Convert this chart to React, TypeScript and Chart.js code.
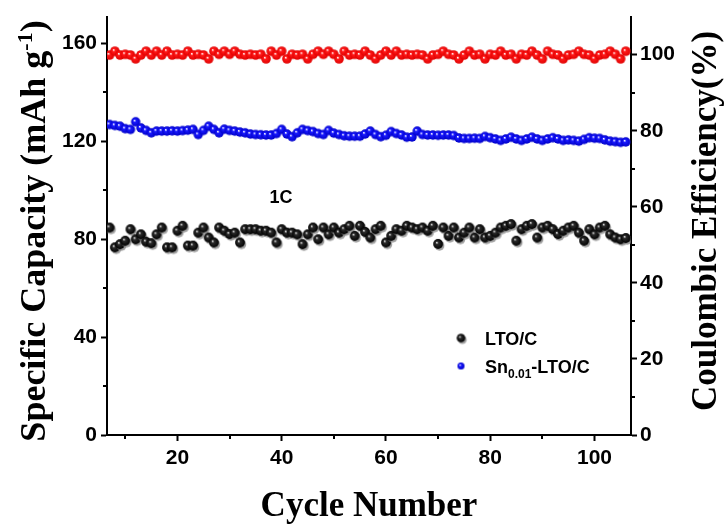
import React, { useEffect, useRef } from 'react';
import { Chart, registerables } from 'chart.js';

Chart.register(...registerables);

// ---------- data ----------
const cycles = [
  7, 8, 9, 10, 11, 12, 13, 14, 15, 16, 17, 18, 19, 20, 21, 22, 23, 24, 25, 26,
  27, 28, 29, 30, 31, 32, 33, 34, 35, 36, 37, 38, 39, 40, 41, 42, 43, 44, 45, 46,
  47, 48, 49, 50, 51, 52, 53, 54, 55, 56, 57, 58, 59, 60, 61, 62, 63, 64, 65, 66,
  67, 68, 69, 70, 71, 72, 73, 74, 75, 76, 77, 78, 79, 80, 81, 82, 83, 84, 85, 86,
  87, 88, 89, 90, 91, 92, 93, 94, 95, 96, 97, 98, 99, 100, 101, 102, 103, 104, 105, 106,
];

const ltoCapacity = [
  84.8, 76.7, 78.0, 79.4, 84.1, 80.0, 82.0, 79.0, 78.4, 82.0, 84.8, 76.7, 76.7, 83.5, 85.5, 77.4, 77.4, 82.7, 84.8, 80.7,
  78.7, 84.8, 83.5, 82.1, 82.7, 78.7, 84.1, 84.1, 84.1, 83.5, 83.5, 82.7, 78.7, 84.1, 82.7, 82.7, 82.0, 78.0, 82.0, 84.8,
  80.0, 84.8, 82.0, 84.8, 82.7, 84.1, 85.5, 81.4, 85.5, 83.0, 80.7, 84.1, 85.5, 78.7, 81.4, 84.1, 83.5, 85.5, 84.8, 84.1,
  84.8, 83.5, 85.5, 78.1, 84.8, 81.4, 84.8, 80.7, 82.7, 84.8, 80.7, 84.1, 80.7, 81.4, 82.7, 84.8, 85.5, 86.2, 79.4, 84.1,
  85.5, 86.2, 80.7, 84.8, 85.5, 84.1, 82.1, 83.5, 84.8, 85.5, 82.7, 79.4, 84.1, 82.0, 84.8, 85.5, 82.0, 80.7, 80.0, 80.5,
];

const snCapacity = [
  126.9, 126.5, 126.2, 125.2, 124.9, 128.0, 125.5, 124.5, 123.5, 124.2, 124.2, 124.2, 124.3, 124.2, 124.4, 124.6, 124.9, 122.8, 124.5, 126.2,
  124.9, 123.5, 125.0, 124.5, 124.2, 123.8, 123.5, 123.0, 122.8, 122.7, 122.6, 122.6, 123.2, 124.9, 123.0, 121.9, 123.5, 124.9, 124.4, 124.0,
  123.2, 122.8, 124.5, 123.4, 122.8, 122.3, 122.1, 122.1, 122.1, 123.0, 124.2, 122.8, 121.9, 122.5, 124.0, 123.2, 122.6, 121.7, 121.8, 124.2,
  122.8, 122.6, 122.6, 122.5, 122.6, 122.6, 122.4, 121.4, 121.2, 121.2, 121.3, 121.2, 122.0, 121.5, 121.0, 120.4, 121.0, 121.7, 121.0, 120.4,
  121.0, 121.7, 121.0, 120.4, 121.0, 121.5, 121.0, 120.4, 120.6, 120.4, 120.1, 120.8, 121.5, 121.3, 121.2, 120.6, 120.1, 119.9, 119.6, 119.8,
];

const coulombicEff = [
  99.9, 100.9, 99.9, 100.1, 99.9, 98.9, 99.9, 100.9, 99.9, 100.9, 99.9, 100.9, 99.9, 100.1, 99.9, 100.9, 99.9, 100.1, 99.9, 98.9,
  100.9, 100.1, 100.9, 100.1, 100.9, 100.1, 99.9, 100.1, 99.9, 100.1, 98.9, 100.9, 99.9, 100.9, 98.9, 100.1, 99.9, 100.1, 98.9, 100.1,
  100.9, 100.1, 100.9, 100.1, 98.9, 100.9, 99.9, 100.1, 99.9, 100.9, 99.9, 98.9, 99.9, 100.9, 99.9, 100.9, 99.9, 100.1, 99.9, 100.1,
  99.9, 98.9, 99.9, 100.1, 100.9, 100.1, 99.9, 98.9, 99.9, 100.9, 99.9, 100.1, 98.9, 100.1, 99.9, 100.9, 99.9, 100.1, 98.9, 100.1,
  99.9, 100.9, 99.9, 98.9, 100.9, 100.1, 99.9, 98.9, 99.9, 100.1, 100.9, 100.1, 99.9, 98.9, 99.9, 100.1, 100.9, 100.1, 98.9, 100.9,
];

const xMajorTicks = [20, 40, 60, 80, 100];
const xMinorTicks = [10, 30, 50, 70, 90];
const capMajorTicks = [0, 40, 80, 120, 160];
const capMinorTicks = [20, 60, 100, 140];
const ceMajorTicks = [0, 20, 40, 60, 80, 100];
const ceMinorTicks = [10, 30, 50, 70, 90];

const legendLabels = ['LTO/C', 'Sn', '0.01', '-LTO/C'];
const rateLabel = '1C';
const xTitle = 'Cycle Number';
const yTitleParts = ['Specific Capacity (mAh g', '-1', ')'];
const y1Title = 'Coulombic Efficiency(%)';

// ---------- marker images ----------
function makeSphere(color: string, dark: string, light: string, r: number, shadow: boolean) {
  const size = Math.ceil(r * 2 + 6);
  const c = document.createElement('canvas');
  c.width = size;
  c.height = size;
  const ctx = c.getContext('2d')!;
  const cx = size / 2;
  const cy = size / 2;
  if (shadow) {
    ctx.fillStyle = 'rgba(130,130,130,0.75)';
    ctx.beginPath();
    ctx.arc(cx + 1.4, cy + 1.8, r, 0, Math.PI * 2);
    ctx.fill();
  }
  const g = ctx.createRadialGradient(cx - r * 0.3, cy - r * 0.3, 0.2, cx, cy, r);
  g.addColorStop(0, light);
  g.addColorStop(0.3, color);
  g.addColorStop(1, dark);
  ctx.fillStyle = g;
  ctx.beginPath();
  ctx.arc(cx, cy, r, 0, Math.PI * 2);
  ctx.fill();
  return c;
}

const SERIF = '"Liberation Serif", "Times New Roman", serif';
const SANS = '"Liberation Sans", Arial, sans-serif';

export default function App() {
  const ref = useRef<HTMLCanvasElement | null>(null);

  useEffect(() => {
    if (!ref.current) return;
    const blackBall = makeSphere('#2a2a2a', '#000000', '#e0e0e0', 4.9, true);
    const blueBall = makeSphere('#1a1aff', '#0000c8', '#ffffff', 4.7, false);
    const redBall = makeSphere('#ff1a1a', '#e00000', '#ffffff', 4.8, false);
    const blackLegend = makeSphere('#2a2a2a', '#000000', '#e0e0e0', 4.3, true);
    const blueLegend = makeSphere('#1a1aff', '#0000c8', '#ffffff', 3.5, false);

    const setTicks = (vals: number[]) => (axis: any) => {
      axis.ticks = vals.map((v) => ({ value: v }));
    };

    const decor = {
      id: 'decor',
      afterDraw(chart: any) {
        const ctx: CanvasRenderingContext2D = chart.ctx;
        const xs = chart.scales.x;
        const ys = chart.scales.y;
        const y1 = chart.scales.y1;
        const area = chart.chartArea;
        ctx.save();
        // minor ticks
        ctx.strokeStyle = '#000';
        ctx.lineWidth = 2;
        ctx.beginPath();
        xMinorTicks.forEach((v) => {
          const px = Math.round(xs.getPixelForValue(v));
          ctx.moveTo(px, area.bottom);
          ctx.lineTo(px, area.bottom + 4);
        });
        capMinorTicks.forEach((v) => {
          const py = Math.round(ys.getPixelForValue(v));
          ctx.moveTo(area.left, py);
          ctx.lineTo(area.left - 4, py);
        });
        ceMinorTicks.forEach((v) => {
          const py = Math.round(y1.getPixelForValue(v));
          ctx.moveTo(area.right, py);
          ctx.lineTo(area.right + 4, py);
        });
        ctx.stroke();

        ctx.fillStyle = '#000';
        // x title
        ctx.font = `bold 35px ${SERIF}`;
        ctx.textAlign = 'center';
        ctx.textBaseline = 'alphabetic';
        ctx.fillText(xTitle, (area.left + area.right) / 2, 516);

        // left title with superscript
        ctx.save();
        ctx.translate(45, 231);
        ctx.rotate(-Math.PI / 2);
        ctx.textAlign = 'left';
        const mainFont = `bold 36px ${SERIF}`;
        const supFont = `bold 22px ${SERIF}`;
        ctx.font = mainFont;
        const w0 = ctx.measureText(yTitleParts[0]).width;
        const w2 = ctx.measureText(yTitleParts[2]).width;
        ctx.font = supFont;
        const w1 = ctx.measureText(yTitleParts[1]).width;
        let sx = -(w0 + w1 + w2) / 2;
        ctx.font = mainFont;
        ctx.fillText(yTitleParts[0], sx, 0);
        sx += w0;
        ctx.font = supFont;
        ctx.fillText(yTitleParts[1], sx, -13);
        sx += w1;
        ctx.font = mainFont;
        ctx.fillText(yTitleParts[2], sx, 0);
        ctx.restore();

        // right title
        ctx.save();
        ctx.translate(716, 221);
        ctx.rotate(-Math.PI / 2);
        ctx.textAlign = 'center';
        ctx.font = `bold 35px ${SERIF}`;
        ctx.fillText(y1Title, 0, 0);
        ctx.restore();

        // rate label
        ctx.font = `bold 18px ${SANS}`;
        ctx.textAlign = 'center';
        ctx.textBaseline = 'middle';
        ctx.fillText(rateLabel, 281, 198);

        // legend
        ctx.drawImage(blackLegend, 461 - blackLegend.width / 2, 338 - blackLegend.height / 2);
        ctx.drawImage(blueLegend, 461 - blueLegend.width / 2, 366 - blueLegend.height / 2);
        ctx.textAlign = 'left';
        ctx.textBaseline = 'alphabetic';
        ctx.font = `bold 18px ${SANS}`;
        ctx.fillText(legendLabels[0], 485, 345);
        let lx = 485;
        ctx.fillText(legendLabels[1], lx, 373);
        lx += ctx.measureText(legendLabels[1]).width;
        ctx.font = `bold 12px ${SANS}`;
        ctx.fillText(legendLabels[2], lx, 378);
        lx += ctx.measureText(legendLabels[2]).width;
        ctx.font = `bold 18px ${SANS}`;
        ctx.fillText(legendLabels[3], lx, 373);
        ctx.restore();
      },
    };

    const tickFont = { family: SANS, size: 21, weight: 'bold' as const };
    const chart = new Chart(ref.current, {
      type: 'scatter',
      data: {
        datasets: [
          {
            label: 'Coulombic Efficiency',
            data: cycles.map((c, i) => ({ x: c, y: coulombicEff[i] })),
            yAxisID: 'y1',
            pointStyle: redBall as any,
            pointRadius: 5,
          },
          {
            label: 'Sn0.01-LTO/C',
            data: cycles.map((c, i) => ({ x: c, y: snCapacity[i] })),
            yAxisID: 'y',
            pointStyle: blueBall as any,
            pointRadius: 5,
          },
          {
            label: 'LTO/C',
            data: cycles.map((c, i) => ({ x: c, y: ltoCapacity[i] })),
            yAxisID: 'y',
            pointStyle: blackBall as any,
            pointRadius: 5,
          },
        ],
      },
      options: {
        animation: false,
        responsive: false,
        maintainAspectRatio: false,
        layout: { padding: { top: 15, left: 0, right: 0, bottom: 0 } },
        plugins: { legend: { display: false }, tooltip: { enabled: false } },
        scales: {
          x: {
            type: 'linear',
            position: 'bottom',
            min: 6.5,
            max: 107,
            border: { color: '#000', width: 2 },
            grid: { drawOnChartArea: false, drawTicks: true, tickLength: 6, tickColor: '#000', tickWidth: 2 },
            ticks: { color: '#000', font: tickFont, padding: 5, maxRotation: 0, autoSkip: false },
            afterBuildTicks: setTicks(xMajorTicks),
            afterFit: (s: any) => { s.height = 90; },
          },
          y: {
            type: 'linear',
            position: 'left',
            min: 0,
            max: 171,
            border: { color: '#000', width: 2 },
            grid: { drawOnChartArea: false, drawTicks: true, tickLength: 6, tickColor: '#000', tickWidth: 2 },
            ticks: { color: '#000', font: tickFont, padding: 4, autoSkip: false },
            afterBuildTicks: setTicks(capMajorTicks),
            afterFit: (s: any) => { s.width = 107; },
          },
          y1: {
            type: 'linear',
            position: 'right',
            min: 0,
            max: 110,
            border: { color: '#000', width: 2 },
            grid: { drawOnChartArea: false, drawTicks: true, tickLength: 6, tickColor: '#000', tickWidth: 2 },
            ticks: { color: '#000', font: tickFont, padding: 3, autoSkip: false },
            afterBuildTicks: setTicks(ceMajorTicks),
            afterFit: (s: any) => { s.width = 93; },
          },
        },
      },
      plugins: [decor],
    });
    return () => chart.destroy();
  }, []);

  return (
    <div style={{ position: 'fixed', left: 0, top: 0, width: 724, height: 525, background: '#fff' }}>
      <canvas ref={ref} width={724} height={525} style={{ width: 724, height: 525 }} />
    </div>
  );
}
